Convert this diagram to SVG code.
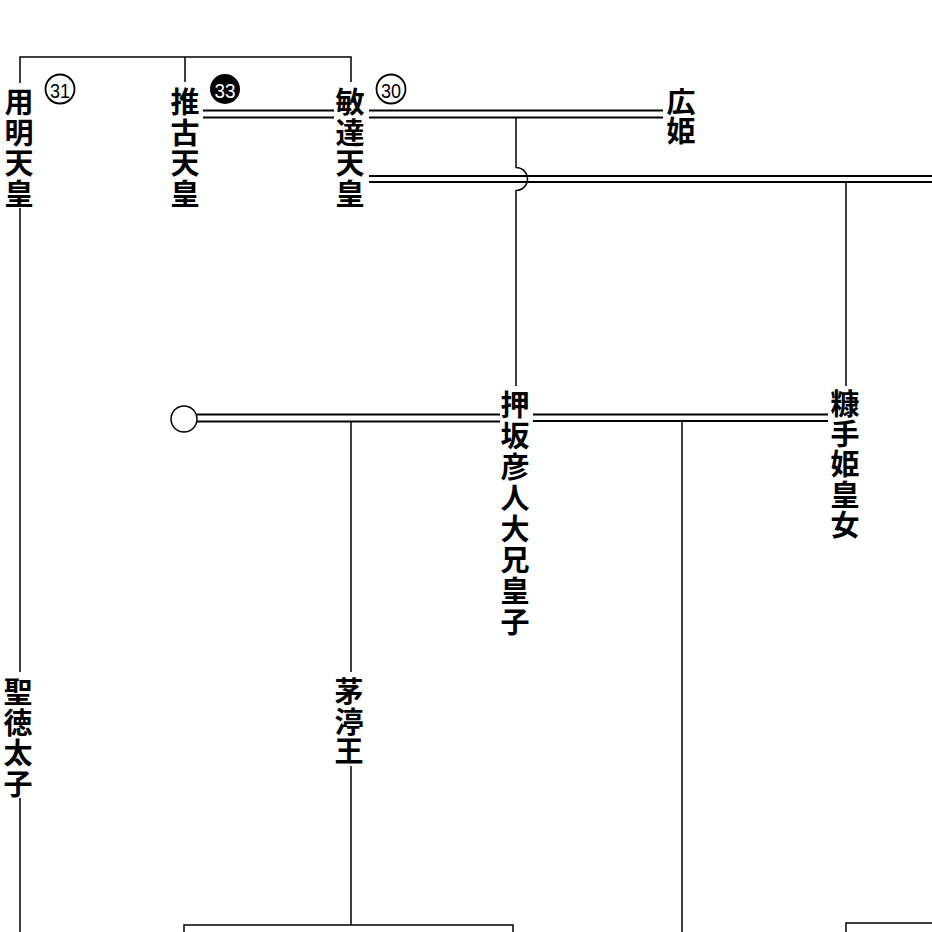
<svg xmlns="http://www.w3.org/2000/svg" width="932" height="932" viewBox="0 0 932 932">
<style>
.n{font-family:"Noto Sans CJK JP","Noto Sans CJK SC",sans-serif;font-size:29px;font-weight:700;fill:#000;text-anchor:middle;dominant-baseline:central}
.num{font-family:"Liberation Sans","DejaVu Sans",sans-serif;font-size:21px;text-anchor:middle;dominant-baseline:central}
.s{stroke:#000;stroke-width:1.5;fill:none}
.d{stroke:#000;stroke-width:2;fill:none}
</style>
<rect width="932" height="932" fill="#fff"/>
<g id="connectors">
  <polyline class="s" points="20,83 20,57 351,57 351,82"/>
  <line class="s" x1="185" y1="57" x2="185" y2="82"/>
  <line class="s" x1="20" y1="208" x2="20" y2="672"/>
  <line class="s" x1="20" y1="798" x2="20" y2="932"/>
  <line class="d" x1="203" y1="110.5" x2="334" y2="110.5"/>
  <line class="d" x1="203" y1="117.5" x2="334" y2="117.5"/>
  <line class="d" x1="369" y1="110.5" x2="663" y2="110.5"/>
  <line class="d" x1="369" y1="117.5" x2="663" y2="117.5"/>
  <line class="d" x1="369" y1="176" x2="932" y2="176"/>
  <line class="d" x1="369" y1="182" x2="932" y2="182"/>
  <path class="s" d="M516,118 V167.5 A11.5,11.5 0 0 1 516,190.5 V386"/>
  <line class="s" x1="846" y1="182" x2="846" y2="386"/>
  <line class="d" x1="197" y1="414.5" x2="500" y2="414.5"/>
  <line class="d" x1="197" y1="421.5" x2="500" y2="421.5"/>
  <line class="d" x1="533" y1="414.5" x2="828" y2="414.5"/>
  <line class="d" x1="533" y1="421" x2="828" y2="421"/>
  <line class="s" x1="351" y1="422" x2="351" y2="672"/>
  <line class="s" x1="351" y1="766" x2="351" y2="925"/>
  <line class="s" x1="682" y1="421" x2="682" y2="932"/>
  <polyline class="s" points="184,932 184,925 513,925 513,932"/>
  <polyline class="s" points="846,932 846,923 932,923"/>
</g>
<g id="yomei">
  <text class="n"><tspan x="19" y="100">用</tspan><tspan x="19" y="130.5">明</tspan><tspan x="19" y="161">天</tspan><tspan x="19" y="191.5">皇</tspan></text>
  <circle cx="60" cy="89" r="14.5" fill="#fff" stroke="#000" stroke-width="1.8"/>
  <text class="num" x="60" y="90" textLength="20" lengthAdjust="spacingAndGlyphs">31</text>
</g>
<g id="suiko">
  <text class="n"><tspan x="185" y="100">推</tspan><tspan x="185" y="130.5">古</tspan><tspan x="185" y="161">天</tspan><tspan x="185" y="191.5">皇</tspan></text>
  <circle cx="225" cy="89" r="15" fill="#000"/>
  <text class="num" x="225" y="90" fill="#fff" textLength="21" lengthAdjust="spacingAndGlyphs">33</text>
</g>
<g id="bidatsu">
  <text class="n"><tspan x="350" y="100">敏</tspan><tspan x="350" y="130.5">達</tspan><tspan x="350" y="161">天</tspan><tspan x="350" y="191.5">皇</tspan></text>
  <circle cx="391" cy="89" r="14.5" fill="#fff" stroke="#000" stroke-width="1.8"/>
  <text class="num" x="391" y="90" textLength="20" lengthAdjust="spacingAndGlyphs">30</text>
</g>
<g id="hirohime">
  <text class="n"><tspan x="681" y="100">広</tspan><tspan x="681" y="129">姫</tspan></text>
</g>
<g id="oshisaka">
  <text class="n"><tspan x="515" y="403">押</tspan><tspan x="515" y="434">坂</tspan><tspan x="515" y="465">彦</tspan><tspan x="515" y="496">人</tspan><tspan x="515" y="527">大</tspan><tspan x="515" y="558">兄</tspan><tspan x="515" y="589">皇</tspan><tspan x="515" y="620">子</tspan></text>
</g>
<g id="nukate">
  <text class="n"><tspan x="845" y="402">糠</tspan><tspan x="845" y="432">手</tspan><tspan x="845" y="462">姫</tspan><tspan x="845" y="493">皇</tspan><tspan x="845" y="523">女</tspan></text>
</g>
<g id="unknown-consort">
  <circle cx="184" cy="419" r="13" fill="#fff" stroke="#000" stroke-width="1.5"/>
</g>
<g id="chinu">
  <text class="n"><tspan x="349" y="690">茅</tspan><tspan x="349" y="719.5">渟</tspan><tspan x="349" y="749">王</tspan></text>
</g>
<g id="shotoku">
  <text class="n"><tspan x="18" y="690">聖</tspan><tspan x="18" y="720.5">徳</tspan><tspan x="18" y="751">太</tspan><tspan x="18" y="781.5">子</tspan></text>
</g>
</svg>
